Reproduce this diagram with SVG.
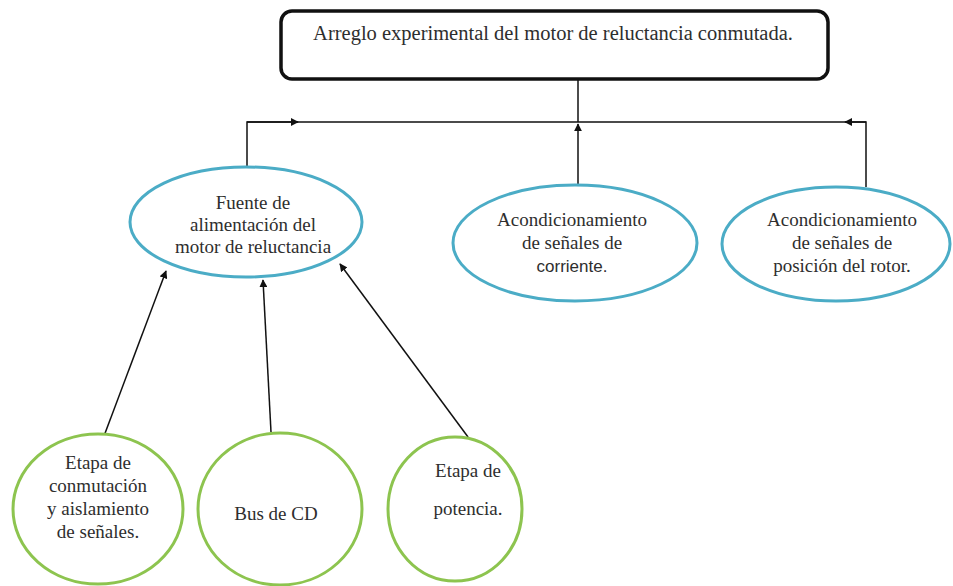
<svg xmlns="http://www.w3.org/2000/svg" width="953" height="586" viewBox="0 0 953 586">
<style>
.t{font-family:"Times New Roman","Liberation Serif",serif;font-size:19px;fill:#2e2e2e;text-anchor:middle}
.s{font-family:"Liberation Sans",Arial,sans-serif;font-size:17px;fill:#2e2e2e;text-anchor:middle}
.b{fill:#fff;stroke:#4bacc6;stroke-width:3}
.g{fill:#fff;stroke:#8dc44f;stroke-width:3}
.c{fill:none;stroke:#111;stroke-width:1.5}
</style>
<defs>
<marker id="ah" viewBox="0 0 10 10" refX="9" refY="5" markerWidth="8" markerHeight="8" markerUnits="userSpaceOnUse" orient="auto"><path d="M0,0 L10,5 L0,10 z" fill="#111"/></marker>
</defs>
<rect width="953" height="586" fill="#fff"/>
<g id="connectors">
<line class="c" x1="578" y1="79" x2="578" y2="122"/>
<polyline class="c" points="247,168 247,122 866,122 866,187"/>
<line class="c" x1="247" y1="122" x2="298" y2="122" marker-end="url(#ah)"/>
<line class="c" x1="866" y1="122" x2="845" y2="122" marker-end="url(#ah)"/>
<line class="c" x1="578" y1="186" x2="578" y2="124" marker-end="url(#ah)"/>
<line class="c" x1="104" y1="436" x2="166" y2="271" marker-end="url(#ah)"/>
<line class="c" x1="271" y1="432" x2="263" y2="280" marker-end="url(#ah)"/>
<line class="c" x1="468" y1="437" x2="340" y2="264" marker-end="url(#ah)"/>
</g>
<g id="top">
<rect x="281" y="11" width="547" height="68" rx="11" fill="#fff" stroke="#111" stroke-width="3.5"/>
<text class="t" x="553" y="40" style="font-size:20.5px">Arreglo experimental del motor de reluctancia conmutada.</text>
</g>
<g id="fuente">
<ellipse class="b" cx="246" cy="222" rx="116" ry="55"/>
<text class="t" x="253" y="209">Fuente de</text>
<text class="t" x="253" y="231">alimentación del</text>
<text class="t" x="253" y="253">motor de reluctancia</text>
</g>
<g id="corriente">
<ellipse class="b" cx="575" cy="243" rx="122" ry="58"/>
<text class="t" x="572" y="226">Acondicionamiento</text>
<text class="t" x="572" y="249">de señales de</text>
<text class="s" x="572" y="272">corriente.</text>
</g>
<g id="posicion">
<ellipse class="b" cx="836" cy="244" rx="114" ry="57"/>
<text class="t" x="842" y="226">Acondicionamiento</text>
<text class="t" x="842" y="249">de señales de</text>
<text class="t" x="842" y="272">posición del rotor.</text>
</g>
<g id="conmutacion">
<ellipse class="g" cx="98" cy="509" rx="85" ry="75"/>
<text class="t" x="98" y="469">Etapa de</text>
<text class="t" x="98" y="492">conmutación</text>
<text class="t" x="98" y="515">y aislamiento</text>
<text class="t" x="98" y="538">de señales.</text>
</g>
<g id="bus">
<ellipse class="g" cx="280" cy="509" rx="82" ry="76"/>
<text class="t" x="276" y="520">Bus de CD</text>
</g>
<g id="potencia">
<ellipse class="g" cx="455" cy="509" rx="67" ry="72"/>
<text class="t" x="468" y="477">Etapa de</text>
<text class="t" x="468" y="515">potencia.</text>
</g>
</svg>
